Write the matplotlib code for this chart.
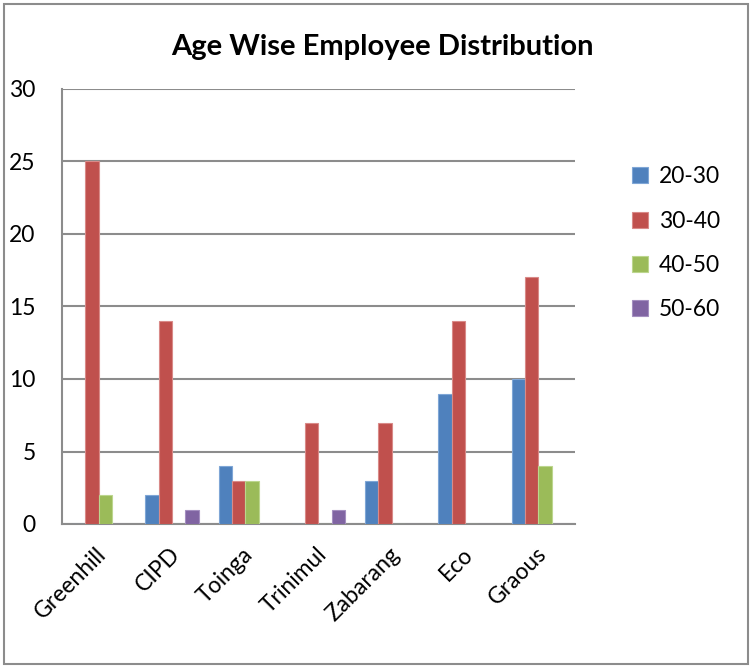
import numpy as np
import matplotlib.pyplot as plt
from matplotlib.patches import Rectangle
from matplotlib.transforms import ScaledTranslation

categories = ["Greenhill", "CIPD", "Toinga", "Trinimul", "Zabarang", "Eco", "Graous"]
series_names = ["20-30", "30-40", "40-50", "50-60"]
age_20_30 = [0, 2, 4, 0, 3, 9, 10]
age_30_40 = [25, 14, 3, 7, 7, 14, 17]
age_40_50 = [2, 0, 3, 0, 0, 0, 4]
age_50_60 = [0, 1, 0, 1, 0, 0, 0]
colors = ["#4F81BD", "#C0504D", "#9BBB59", "#8064A2"]
edges = ["#7FA6D6", "#D98A88", "#BCD68E", "#A48FC0"]

plt.rcParams['font.family'] = ['Lato', 'DejaVu Sans']

fig = plt.figure(figsize=(7.52, 6.68), dpi=100)
ax = fig.add_axes([62 / 752, 1 - 524 / 668, 513 / 752, 435 / 668])

# outer chart border
fig.patches.append(Rectangle((4 / 752, 4 / 668), 744 / 752, 660 / 668,
                             transform=fig.transFigure, fill=False,
                             edgecolor="#8C8C8C", linewidth=1.5))

x = np.arange(len(categories))
w = 1 / 5.5
values = [age_20_30, age_30_40, age_40_50, age_50_60]
for i, (vals, name) in enumerate(zip(values, series_names)):
    ax.bar(x + (i - 1.5) * w, vals, width=w, color=colors[i],
           edgecolor=edges[i], linewidth=0.8, label=name, zorder=3)

ax.set_xlim(-0.5, len(categories) - 0.5)
ax.set_ylim(0, 30)
ax.set_yticks(range(0, 31, 5))
ax.tick_params(axis='y', length=0, pad=19, labelsize=16.5)
ax.tick_params(axis='x', length=0, pad=14, labelsize=16.5)
ax.set_xticks(x)
ax.set_xticklabels(categories, rotation=45, ha='right', rotation_mode='anchor')
shift = ScaledTranslation(-2 / 72, 0, fig.dpi_scale_trans)
for lbl in ax.get_xticklabels():
    lbl.set_transform(lbl.get_transform() + shift)

ax.grid(axis='y', color="#8C8C8C", linewidth=1.5, zorder=0)
for s in ['top', 'right']:
    ax.spines[s].set_visible(False)
for s in ['left', 'bottom']:
    ax.spines[s].set_color("#8C8C8C")
    ax.spines[s].set_linewidth(1.5)

fig.text(382 / 752, 1 - 47 / 668, "Age Wise Employee Distribution",
         ha='center', va='center', fontsize=21, fontweight='bold')

ax.legend(loc='center left', bbox_to_anchor=(1.07, 0.645), frameon=False,
          fontsize=16.5, handlelength=0.7, handleheight=0.7, handletextpad=0.5,
          labelspacing=1.02)

fig.savefig("out.png", dpi=100)
